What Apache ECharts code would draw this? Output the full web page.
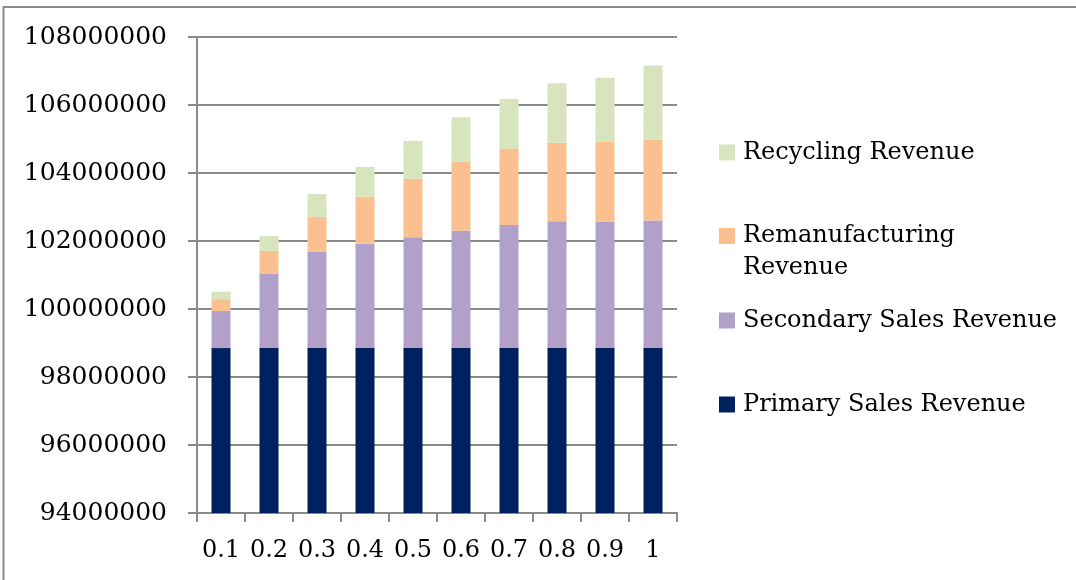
<!DOCTYPE html>
<html>
<head>
<meta charset="utf-8">
<script src="https://cdn.jsdelivr.net/npm/echarts@6/dist/echarts.min.js"></script>
<style>
  html, body { margin: 0; padding: 0; background: #fff; }
  #chart { width: 1076px; height: 580px; }
</style>
</head>
<body>
<div id="chart"></div>
<script>
// Revenue breakdown by parameter value (stacked)
const categories = ['0.1', '0.2', '0.3', '0.4', '0.5', '0.6', '0.7', '0.8', '0.9', '1'];
const primarySales     = [98850000, 98850000, 98850000, 98850000, 98850000, 98850000, 98850000, 98850000, 98850000, 98850000];
const secondarySales   = [1090000, 2180000, 2840000, 3070000, 3260000, 3450000, 3620000, 3730000, 3720000, 3750000];
const remanufacturing  = [350000, 680000, 1020000, 1380000, 1720000, 2030000, 2240000, 2310000, 2350000, 2380000];
const recycling        = [220000, 440000, 670000, 880000, 1110000, 1310000, 1470000, 1750000, 1880000, 2180000];
const yTicks = { min: 94000000, max: 108000000, step: 2000000 };

const names = {
  primary: 'Primary Sales Revenue',
  secondary: 'Secondary Sales Revenue',
  reman: 'Remanufacturing Revenue',
  recycling: 'Recycling Revenue'
};
const colors = {
  primary: '#002060',
  secondary: '#B1A0C7',
  reman: '#FAC090',
  recycling: '#D7E4BD'
};

const FONT = 'DejaVu Serif';
const GRAY = '#8a8a8a';

// One legend per entry so each can sit at its own height.
// The wrapped entry gets a leading blank line so its first line lines up with the swatch.
function legendAt(name, top, twoLine) {
  return {
    show: true,
    data: [name],
    orient: 'vertical',
    left: 719,
    top: top,
    padding: 0,
    itemWidth: 16,
    itemHeight: 16,
    icon: 'rect',
    selectedMode: false,
    formatter: twoLine ? function (n) { return '\n' + n.replace(' ', '\n'); } : undefined,
    textStyle: {
      fontFamily: FONT,
      fontSize: 24,
      color: '#000',
      lineHeight: 32,
      padding: twoLine ? [8, 0, 0, 3] : [3, 0, 0, 3]
    }
  };
}

const chart = echarts.init(document.getElementById('chart'), null, { renderer: 'canvas' });

const barSeries = function (key, data) {
  return {
    name: names[key],
    type: 'bar',
    stack: 'revenue',
    data: data,
    barWidth: 19,
    itemStyle: { color: colors[key] },
    emphasis: { disabled: true }
  };
};

chart.setOption({
  animation: false,
  backgroundColor: '#fff',
  grid: { left: 197, right: 399, top: 37, bottom: 67, containLabel: false },
  xAxis: {
    type: 'category',
    data: categories,
    boundaryGap: true,
    axisLine: { show: true, lineStyle: { color: GRAY, width: 2 } },
    axisTick: { show: true, length: 9, alignWithLabel: false, lineStyle: { color: GRAY, width: 2 } },
    axisLabel: { interval: 0, fontFamily: FONT, fontSize: 24, color: '#000', margin: 26 },
    splitLine: { show: false }
  },
  yAxis: {
    type: 'value',
    min: yTicks.min,
    max: yTicks.max,
    interval: yTicks.step,
    axisLine: { show: true, lineStyle: { color: GRAY, width: 2 } },
    axisTick: { show: true, length: 9, lineStyle: { color: GRAY, width: 2 } },
    axisLabel: {
      fontFamily: FONT, fontSize: 25, color: '#000', margin: 30,
      formatter: function (v) { return String(v); }
    },
    splitLine: { show: true, lineStyle: { color: GRAY, width: 2 } }
  },
  legend: [
    legendAt(names.recycling, 135, false),
    legendAt(names.reman, 184, true),
    legendAt(names.secondary, 303, false),
    legendAt(names.primary, 387, false)
  ],
  graphic: [{
    type: 'rect',
    silent: true,
    shape: { x: 3.5, y: 7, width: 1200, height: 800 },
    style: { fill: 'none', stroke: GRAY, lineWidth: 2 }
  }],
  series: [
    barSeries('primary', primarySales),
    barSeries('secondary', secondarySales),
    barSeries('reman', remanufacturing),
    barSeries('recycling', recycling)
  ]
});
</script>
</body>
</html>
